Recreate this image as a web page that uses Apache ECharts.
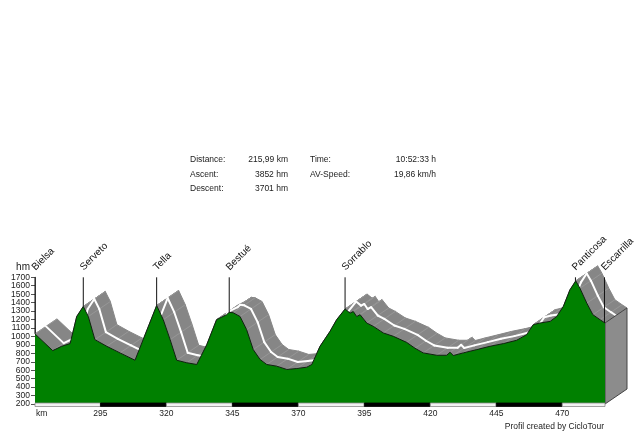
<!DOCTYPE html>
<html>
<head>
<meta charset="utf-8">
<script src="https://cdn.jsdelivr.net/npm/echarts@6/dist/echarts.min.js"></script>
<style>html,body{margin:0;padding:0;background:#fff;}#c{width:640px;height:432px;}</style>
</head>
<body>
<div id="c"></div>
<script>
const KM = [270.2, 276.9, 280.3, 283.5, 284.5, 286.0, 288.5, 290.4, 292.9, 297.4, 302.4, 308.1, 316.3, 318.8, 321.4, 323.9, 327.7, 331.5, 335.3, 339.0, 342.8, 343.8, 345.3, 347.9, 350.4, 352.9, 355.5, 358.0, 361.8, 365.6, 369.4, 373.2, 375.1, 378.2, 382.0, 384.5, 387.7, 389.6, 390.8, 392.1, 393.4, 395.9, 398.4, 402.2, 406.0, 411.0, 414.2, 417.3, 422.4, 426.2, 427.5, 428.7, 432.5, 437.6, 442.6, 447.7, 452.7, 456.5, 459.0, 461.6, 465.4, 467.9, 470.4, 472.9, 475.1, 476.7, 479.3, 481.6, 484.3, 486.2];
const ELEV = [1030, 832, 883, 915, 1041, 1236, 1354, 1236, 962, 883, 805, 718, 1366, 1198, 962, 718, 688, 668, 903, 1198, 1257, 1285, 1280, 1236, 1080, 844, 727, 668, 648, 609, 620, 636, 668, 883, 1060, 1198, 1324, 1276, 1295, 1236, 1257, 1159, 1119, 1041, 1001, 930, 860, 805, 777, 777, 813, 774, 805, 844, 883, 915, 954, 1021, 1139, 1159, 1178, 1236, 1354, 1551, 1657, 1571, 1394, 1257, 1198, 1159];

const PLACE_NAMES = ['Bielsa', 'Serveto', 'Tella', 'Bestué', 'Sorrablo', 'Panticosa', 'Escarrilla'];
const PLACE_KM = [270.2, 288.5, 316.3, 343.8, 387.7, 475.0, 486.0];
const PLACE_ELEV = [1030, 1354, 1366, 1285, 1324, 1657, 1159];

const X_TICKS = [295, 320, 345, 370, 395, 420, 445, 470];
const Y_TICKS = [200, 300, 400, 500, 600, 700, 800, 900, 1000, 1100, 1200, 1300, 1400, 1500, 1600, 1700];
const KM_START = 270.2, KM_END = 486.2;
const Y_MIN = 200, Y_MAX = 1700;

const STATS_LEFT = [['Distance:', '215,99 km'], ['Ascent:', '3852 hm'], ['Descent:', '3701 hm']];
const STATS_RIGHT = [['Time:', '10:52:33 h'], ['AV-Speed:', '19,86 km/h']];

const DX = 22, DY = -15;
const FONT = '"Liberation Sans", Arial, sans-serif';

const profile = KM.map((k, i) => [k, ELEV[i]]);
const segs = [];
for (let i = 0; i < KM.length - 1; i++) segs.push([KM[i], ELEV[i], KM[i + 1], ELEV[i + 1]]);
const bounds = [KM_START].concat(X_TICKS, [KM_END]);
const barSegs = [];
for (let i = 0; i < bounds.length - 1; i++) barSegs.push([bounds[i], bounds[i + 1], i % 2]);
const places = PLACE_KM.map((k, i) => [k, PLACE_ELEV[i], i]);
const yLabels = Y_TICKS.map(v => [KM_START, v]);

const graphics = [];
STATS_LEFT.forEach((r, i) => {
  const y = 160 + i * 14.7;
  graphics.push({type: 'text', left: 190, top: y - 5, style: {text: r[0], font: '8.5px ' + FONT, fill: '#222'}});
  graphics.push({type: 'text', right: 640 - 288, top: y - 5, style: {text: r[1], font: '8.5px ' + FONT, fill: '#222'}});
});
STATS_RIGHT.forEach((r, i) => {
  const y = 160 + i * 14.7;
  graphics.push({type: 'text', left: 310, top: y - 5, style: {text: r[0], font: '8.5px ' + FONT, fill: '#222'}});
  graphics.push({type: 'text', right: 640 - 436, top: y - 5, style: {text: r[1], font: '8.5px ' + FONT, fill: '#222'}});
});
graphics.push({type: 'text', right: 640 - 30, top: 262, style: {text: 'hm', font: '10px ' + FONT, fill: '#222'}});
graphics.push({type: 'text', left: 36, top: 409, style: {text: 'km', font: '8.5px ' + FONT, fill: '#222'}});
graphics.push({type: 'text', right: 640 - 604, top: 422, style: {text: 'Profil created by CicloTour', font: '8.5px ' + FONT, fill: '#222'}});

const chart = echarts.init(document.getElementById('c'), null, {renderer: 'canvas'});
chart.setOption({
  animation: false,
  backgroundColor: '#fff',
  grid: {left: 35, right: 35, top: 277.3, bottom: 28},
  xAxis: {
    type: 'value', min: KM_START, max: KM_END,
    axisLine: {show: false}, axisTick: {show: false}, splitLine: {show: false},
    axisLabel: {customValues: X_TICKS, fontSize: 8.5, fontFamily: FONT, color: '#222', margin: 5}
  },
  yAxis: {
    type: 'value', min: Y_MIN, max: Y_MAX, interval: 100,
    axisLine: {show: true, lineStyle: {color: '#555', width: 1}},
    axisTick: {show: true, length: 4, lineStyle: {color: '#555'}},
    splitLine: {show: false},
    axisLabel: {show: false}
  },
  graphic: graphics,
  series: [
    {
      type: 'custom', z: 1, clip: false, data: segs,
      renderItem: function (params, api) {
        const a = api.coord([api.value(0), api.value(1)]);
        const b = api.coord([api.value(2), api.value(3)]);
        return {type: 'group', children: [
          {type: 'polygon', shape: {points: [a, b, [b[0] + DX, b[1] + DY], [a[0] + DX, a[1] + DY]]},
           style: {fill: '#868686', stroke: '#868686', lineWidth: 1}},
          {type: 'line', shape: {x1: a[0], y1: a[1], x2: a[0] + DX, y2: a[1] + DY},
           style: {stroke: '#9a9a9a', lineWidth: 0.8}}
        ]};
      }
    },
    {
      type: 'custom', z: 2, clip: false, data: segs,
      renderItem: function (params, api) {
        const a = api.coord([api.value(0), api.value(1)]);
        const b = api.coord([api.value(2), api.value(3)]);
        return {type: 'line', shape: {x1: a[0] + DX / 2, y1: a[1] + DY / 2, x2: b[0] + DX / 2, y2: b[1] + DY / 2},
          style: {stroke: '#ffffff', lineWidth: 2, lineCap: 'round'}};
      }
    },
    {
      type: 'custom', z: 2, clip: false, data: [[KM[KM.length - 1], ELEV[ELEV.length - 1]]],
      renderItem: function (params, api) {
        const a = api.coord([api.value(0), api.value(1)]);
        const b = api.coord([api.value(0), Y_MIN]);
        return {type: 'polygon', shape: {points: [a, b, [b[0] + DX, b[1] + DY], [a[0] + DX, a[1] + DY]]},
          style: {fill: '#8c8c8c', stroke: '#444', lineWidth: 1}};
      }
    },
    {
      type: 'line', z: 3, data: profile, symbol: 'none', smooth: false,
      lineStyle: {color: '#102010', width: 1},
      areaStyle: {color: '#008000', opacity: 1}
    },
    {
      type: 'custom', z: 5, clip: false, data: barSegs,
      renderItem: function (params, api) {
        const a = api.coord([api.value(0), Y_MIN]);
        const b = api.coord([api.value(1), Y_MIN]);
        const dark = api.value(2) === 1;
        return {type: 'rect', shape: {x: a[0], y: a[1] - 1, width: b[0] - a[0], height: 3.5},
          style: {fill: dark ? '#000' : '#f2f2f2', stroke: dark ? '#000' : '#8a8a8a', lineWidth: 0.8}};
      }
    },
    {
      type: 'custom', z: 5, clip: false, data: yLabels,
      renderItem: function (params, api) {
        const p = api.coord([api.value(0), api.value(1)]);
        return {type: 'text', x: p[0] - 5, y: p[1],
          style: {text: String(api.value(1)), font: '8.5px ' + FONT, fill: '#222', textAlign: 'right', textVerticalAlign: 'middle'}};
      }
    },
    {
      type: 'custom', z: 6, clip: false, data: places,
      renderItem: function (params, api) {
        const p = api.coord([api.value(0), api.value(1)]);
        const t = api.coord([api.value(0), Y_MAX]);
        const name = PLACE_NAMES[api.value(2)];
        return {type: 'group', children: [
          {type: 'line', shape: {x1: p[0], y1: t[1], x2: p[0], y2: p[1]}, style: {stroke: '#111', lineWidth: 1}},
          {type: 'text', x: p[0] + 2, y: t[1] - 5, rotation: Math.PI / 4,
           style: {text: name, font: '10px ' + FONT, fill: '#111', textAlign: 'left', textVerticalAlign: 'bottom'}}
        ]};
      }
    }
  ]
});
</script>
</body>
</html>
